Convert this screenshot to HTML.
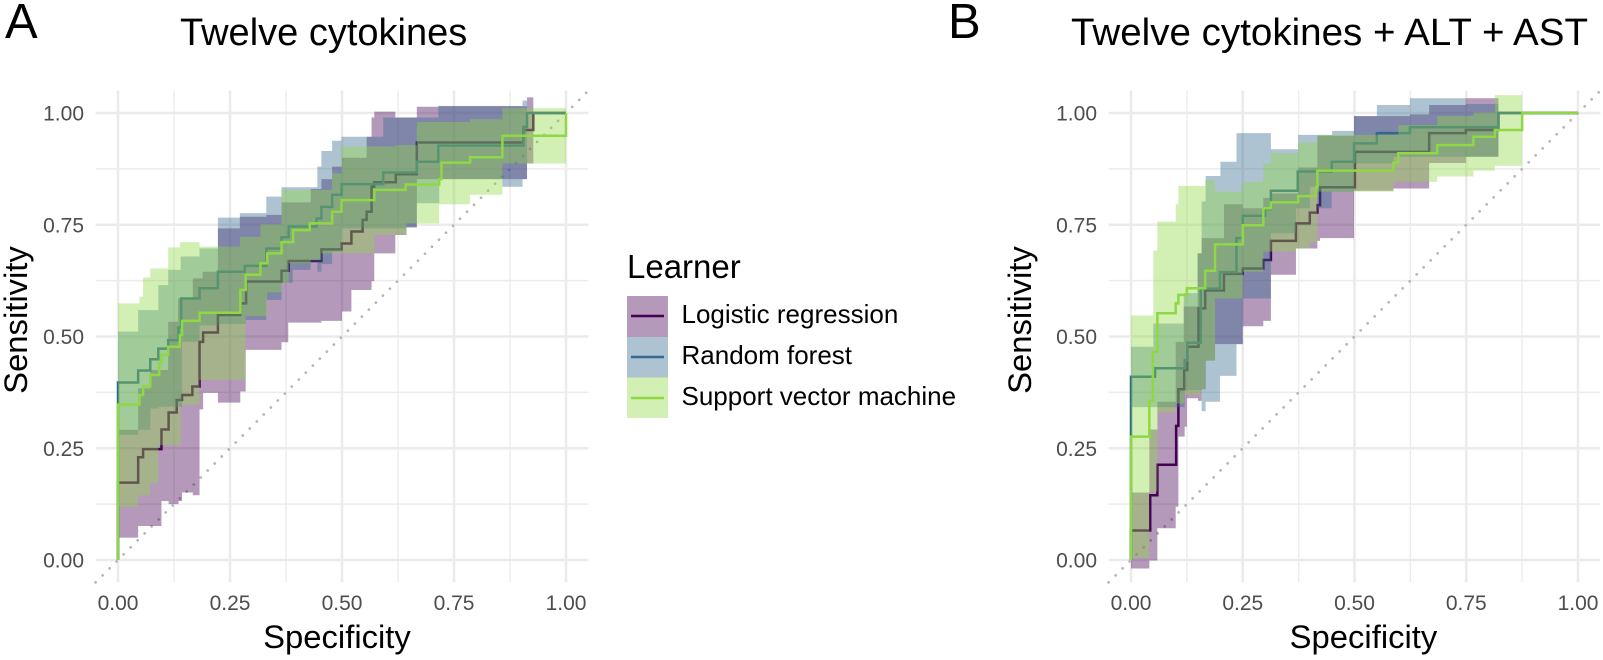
<!DOCTYPE html>
<html lang="en">
<head>
<meta charset="utf-8">
<title>ROC curves: Twelve cytokines</title>
<style>
html,body{margin:0;padding:0;background:#fff;}
svg{display:block;font-family:"Liberation Sans",sans-serif;}
</style>
</head>
<body>
<svg id="chart" width="1603" height="660" viewBox="0 0 1603 660" xmlns="http://www.w3.org/2000/svg">
  <text x="5" y="38" font-size="49" fill="#000">A</text>
  <text x="180" y="45" font-size="38" fill="#000">Twelve cytokines</text>
  <text x="948" y="38" font-size="49" fill="#000">B</text>
  <text x="1071" y="45" font-size="38" fill="#000" textLength="517" lengthAdjust="spacingAndGlyphs">Twelve cytokines + ALT + AST</text>
  <g id="panel-a"></g>
  <g id="panel-b"></g>
  <g>
    <text x="627" y="278" font-size="33" fill="#000">Learner</text>
    <rect x="627" y="296" width="41" height="41" fill="#440154" fill-opacity="0.4"/>
    <line x1="631" x2="664" y1="316" y2="316" stroke="#440154" stroke-width="2.4"/>
    <text x="681.5" y="323" font-size="26" fill="#000">Logistic regression</text>
    <rect x="627" y="337" width="41" height="40.5" fill="#31688E" fill-opacity="0.4"/>
    <line x1="631" x2="664" y1="357" y2="357" stroke="#31688E" stroke-width="2.4"/>
    <text x="681.5" y="364" font-size="26" fill="#000">Random forest</text>
    <rect x="627" y="377.5" width="41" height="40.5" fill="#8FD744" fill-opacity="0.4"/>
    <line x1="631" x2="664" y1="398" y2="398" stroke="#8FD744" stroke-width="2.4"/>
    <text x="681.5" y="405" font-size="26" fill="#000">Support vector machine</text>
  </g>
</svg>
<script>
var majorTicks = [0, 0.25, 0.5, 0.75, 1];
var minorTicks = [0.125, 0.375, 0.625, 0.875];
var tickLabels = ['0.00', '0.25', '0.50', '0.75', '1.00'];

// Panel A
var aLrX = [0,0,.045,.056,.097,.113,.131,.143,.166,.182,.19,.223,.273,.286,.365,.381,.454,.499,.521,.546,.555,.566,.572,.62,.667,.905,.927,1];
var aLrY = [0,.173,.23,.248,.292,.33,.358,.369,.388,.488,.509,.548,.574,.623,.647,.669,.695,.708,.735,.761,.779,.835,.845,.863,.934,.962,1,1];
var aRfX = [0,0,.045,.072,.09,.112,.135,.141,.182,.223,.283,.331,.365,.381,.443,.454,.478,.499,.592,.667,.715,.905,.913,1];
var aRfY = [0,.397,.424,.449,.473,.492,.52,.585,.608,.645,.658,.697,.722,.746,.764,.79,.817,.841,.867,.891,.927,.969,1,1];
var aSvmX = [0,0,.048,.056,.072,.092,.097,.112,.138,.143,.182,.273,.285,.318,.333,.365,.391,.428,.478,.499,.572,.642,.717,.722,.786,.858,1];
var aSvmY = [0,.348,.369,.388,.414,.44,.459,.477,.503,.535,.553,.604,.638,.664,.686,.711,.738,.753,.779,.805,.828,.84,.852,.889,.901,.949,1];

var aLrUpX = [0,.045,.072,.112,.134,.167,.189,.223,.272,.331,.365,.43,.454,.478,.5,.555,.566,.572,.619,.667,.715,.913,.927];
var aLrUpY = [.291,.384,.425,.533,.585,.63,.645,.742,.768,.772,.8,.83,.852,.88,.9,.947,.99,1.003,.99,1.014,1.015,1.035,1.035];
var aLrLoX = [0,.045,.097,.113,.135,.143,.167,.182,.19,.223,.273,.285,.365,.38,.454,.5,.521,.566,.572,.619,.644,.667,.858,.913,.927];
var aLrLoY = [.05,.076,.132,.125,.132,.151,.145,.337,.374,.352,.377,.47,.487,.531,.535,.556,.604,.624,.686,.727,.744,.852,.852,.887,.887];
var aRfUpX = [0,.045,.09,.112,.14,.182,.223,.272,.331,.365,.445,.454,.478,.499,.592,.715,.903,.913];
var aRfUpY = [.511,.559,.615,.649,.679,.697,.766,.776,.813,.834,.88,.915,.938,.947,.99,1.016,1.028,1.028];
var aRfLoX = [0,.045,.072,.09,.143,.182,.223,.285,.331,.365,.39,.43,.445,.454,.478,.499,.644,.667,.717,.858,.903,.913];
var aRfLoY = [.28,.291,.339,.343,.488,.525,.528,.537,.582,.62,.649,.667,.645,.662,.69,.742,.744,.798,.852,.835,.852,.852];
var aSvmUpX = [0,.048,.056,.072,.112,.138,.182,.272,.318,.365,.478,.499,.619,.667,.786,.858,1];
var aSvmUpY = [.574,.589,.632,.652,.699,.711,.701,.723,.751,.828,.865,.925,.928,.98,.986,1.011,1.011];
var aSvmLoX = [0,.045,.072,.09,.14,.182,.285,.333,.365,.381,.43,.454,.499,.572,.644,.667,.717,.786,.858,1];
var aSvmLoY = [.119,.144,.172,.257,.347,.403,.546,.599,.62,.664,.671,.686,.686,.727,.753,.753,.796,.817,.887,.887];

// Panel B
var bLrX = [0,0,.043,.059,.101,.106,.119,.126,.151,.166,.208,.25,.296,.313,.369,.4,.417,.423,.501,.667,.749,.822,1];
var bLrY = [0,.066,.145,.213,.3,.382,.425,.477,.563,.603,.64,.652,.671,.714,.753,.777,.794,.834,.913,.955,.962,1,1];
var bRfX = [0,0,.046,.054,.12,.126,.156,.199,.236,.25,.3,.313,.373,.449,.499,.55,.624,.822,1];
var bRfY = [0,.41,.41,.429,.447,.486,.607,.644,.72,.77,.785,.826,.869,.891,.932,.955,.968,1,1];
var bSvmX = [0,0,.041,.049,.059,.1,.106,.125,.166,.188,.25,.296,.313,.374,.414,.417,.587,.598,.685,.766,.814,.875,1];
var bSvmY = [0,.276,.356,.466,.552,.574,.593,.608,.647,.706,.749,.787,.8,.814,.834,.871,.889,.91,.928,.947,.962,1,1];

var bLrUpX = [0,.041,.059,.1,.118,.149,.158,.208,.25,.296,.313,.374,.417,.499,.624,.667,.749,.822];
var bLrUpY = [.151,.292,.354,.488,.567,.686,.72,.796,.787,.81,.82,.878,.949,.993,.997,1.018,1.033,1.033];
var bLrLoX = [0,.041,.059,.1,.106,.12,.125,.15,.158,.167,.188,.25,.296,.313,.369,.417,.423,.499,.587,.667,.749,.822];
var bLrLoY = [-.019,-.001,.071,.119,.276,.298,.362,.356,.382,.446,.483,.523,.535,.638,.697,.714,.72,.826,.831,.888,.902,.902];
var bRfUpX = [0,.05,.118,.149,.158,.167,.2,.236,.313,.374,.45,.499,.55,.624,.749,.822];
var bRfUpY = [.477,.529,.597,.686,.802,.859,.891,.955,.919,.951,.96,.993,1.018,1.033,1.02,1.02];
var bRfLoX = [0,.046,.12,.158,.167,.199,.236,.25,.313,.369,.4,.417,.449,.499,.587,.822];
var bRfLoY = [.342,.342,.38,.333,.354,.412,.483,.585,.731,.787,.835,.787,.824,.887,.902,.902];
var bSvmUpX = [0,.05,.059,.1,.106,.166,.188,.25,.296,.313,.374,.417,.598,.685,.766,.814,.875];
var bSvmUpY = [.547,.692,.757,.796,.837,.85,.824,.846,.887,.91,.934,.951,.973,.993,1.001,1.04,1.04];
var bSvmLoX = [0,.041,.059,.1,.119,.156,.166,.188,.25,.296,.313,.369,.4,.417,.587,.667,.685,.766,.814,.875];
var bSvmLoY = [.004,.153,.33,.35,.37,.382,.446,.585,.645,.69,.69,.697,.71,.824,.846,.846,.858,.871,.882,.882];

var SVGNS = 'http://www.w3.org/2000/svg';

function makeScale(px0, px1) {
  return function (v) { return px0 + (px1 - px0) * v; };
}

function stepForward(xs, ys, sx, sy, start) {
  var d = (start ? 'M' : 'L') + sx(xs[0]).toFixed(2) + ' ' + sy(ys[0]).toFixed(2);
  for (var i = 1; i < xs.length; i++) {
    d += 'H' + sx(xs[i]).toFixed(2) + 'V' + sy(ys[i]).toFixed(2);
  }
  return d;
}

function stepBackward(xs, ys, sx, sy) {
  var n = xs.length - 1;
  var d = 'L' + sx(xs[n]).toFixed(2) + ' ' + sy(ys[n]).toFixed(2);
  for (var i = n - 1; i >= 0; i--) {
    d += 'V' + sy(ys[i]).toFixed(2) + 'H' + sx(xs[i]).toFixed(2);
  }
  return d + 'Z';
}

function addLine(g, x1, y1, x2, y2, color, width, name) {
  var el = document.createElementNS(SVGNS, 'line');
  el.setAttribute('x1', x1);
  el.setAttribute('y1', y1);
  el.setAttribute('x2', x2);
  el.setAttribute('y2', y2);
  el.setAttribute('stroke', color);
  el.setAttribute('stroke-width', width);
  
  
  g.appendChild(el);
  return el;
}

function addText(g, x, y, str, size, color, anchor, name, rotate) {
  var el = document.createElementNS(SVGNS, 'text');
  el.setAttribute('x', x);
  el.setAttribute('y', y);
  el.setAttribute('font-size', size);
  el.setAttribute('fill', color);
  el.setAttribute('text-anchor', anchor);
  if (rotate) el.setAttribute('transform', 'rotate(-90 ' + x + ' ' + y + ')');
  
  
  el.textContent = str;
  g.appendChild(el);
}

function addSeries(g, s, sx, sy) {
  var rib = document.createElementNS(SVGNS, 'path');
  rib.setAttribute('d', stepForward(s.upX, s.upY, sx, sy, true) + stepBackward(s.loX, s.loY, sx, sy));
  rib.setAttribute('fill', s.color);
  rib.setAttribute('fill-opacity', '0.4');
  
  
  g.appendChild(rib);

  var ln = document.createElementNS(SVGNS, 'path');
  ln.setAttribute('d', stepForward(s.x, s.y, sx, sy, true));
  ln.setAttribute('fill', 'none');
  ln.setAttribute('stroke', s.color);
  ln.setAttribute('stroke-width', '2.5');
  
  
  g.appendChild(ln);
}

function drawPanel(cfg) {
  var g = document.getElementById(cfg.id);
  var sx = makeScale(cfg.x0, cfg.x1);
  var sy = makeScale(cfg.y0, cfg.y1);
  var left = sx(-0.05), right = sx(1.05), bottom = sy(-0.05), top = sy(1.05);
  var i;

  for (i = 0; i < minorTicks.length; i++) {
    addLine(g, sx(minorTicks[i]), bottom, sx(minorTicks[i]), top, '#ececec', 1.4, 'minor-gridline-x');
    addLine(g, left, sy(minorTicks[i]), right, sy(minorTicks[i]), '#ececec', 1.4, 'minor-gridline-y');
  }
  for (i = 0; i < majorTicks.length; i++) {
    addLine(g, sx(majorTicks[i]), bottom, sx(majorTicks[i]), top, '#ebebeb', 2.6, 'major-gridline-x');
    addLine(g, left, sy(majorTicks[i]), right, sy(majorTicks[i]), '#ebebeb', 2.6, 'major-gridline-y');
    addText(g, sx(majorTicks[i]), 610, tickLabels[i], 21, '#4d4d4d', 'middle', 'x-tick-label');
    addText(g, cfg.tickRight, sy(majorTicks[i]) + 7.5, tickLabels[i], 21, '#4d4d4d', 'end', 'y-tick-label');
  }

  var diag = addLine(g, sx(-0.05), sy(-0.05), sx(1.05), sy(1.05), '#b4b4b4', 2.7, 'diagonal-reference-line');
  diag.setAttribute('stroke-dasharray', '0 9.9');
  diag.setAttribute('stroke-linecap', 'round');

  for (i = 0; i < cfg.series.length; i++) {
    addSeries(g, cfg.series[i], sx, sy);
  }

  addText(g, cfg.xTitleX, 648, 'Specificity', 32.8, '#000', 'middle', 'x-axis-title');
  addText(g, cfg.yTitleX, 320, 'Sensitivity', 32.8, '#000', 'middle', 'y-axis-title', true);
}

drawPanel({
  id: 'panel-a', x0: 118, x1: 566, y0: 560, y1: 113, tickRight: 84, xTitleX: 337, yTitleX: 27,
  series: [
    {name: 'logistic-regression', color: '#440154', x: aLrX, y: aLrY, upX: aLrUpX, upY: aLrUpY, loX: aLrLoX, loY: aLrLoY},
    {name: 'random-forest', color: '#31688E', x: aRfX, y: aRfY, upX: aRfUpX, upY: aRfUpY, loX: aRfLoX, loY: aRfLoY},
    {name: 'support-vector-machine', color: '#8FD744', x: aSvmX, y: aSvmY, upX: aSvmUpX, upY: aSvmUpY, loX: aSvmLoX, loY: aSvmLoY}
  ]
});

drawPanel({
  id: 'panel-b', x0: 1131, x1: 1578, y0: 560, y1: 113, tickRight: 1097, xTitleX: 1363.5, yTitleX: 1031,
  series: [
    {name: 'logistic-regression', color: '#440154', x: bLrX, y: bLrY, upX: bLrUpX, upY: bLrUpY, loX: bLrLoX, loY: bLrLoY},
    {name: 'random-forest', color: '#31688E', x: bRfX, y: bRfY, upX: bRfUpX, upY: bRfUpY, loX: bRfLoX, loY: bRfLoY},
    {name: 'support-vector-machine', color: '#8FD744', x: bSvmX, y: bSvmY, upX: bSvmUpX, upY: bSvmUpY, loX: bSvmLoX, loY: bSvmLoY}
  ]
});
</script>
</body>
</html>
